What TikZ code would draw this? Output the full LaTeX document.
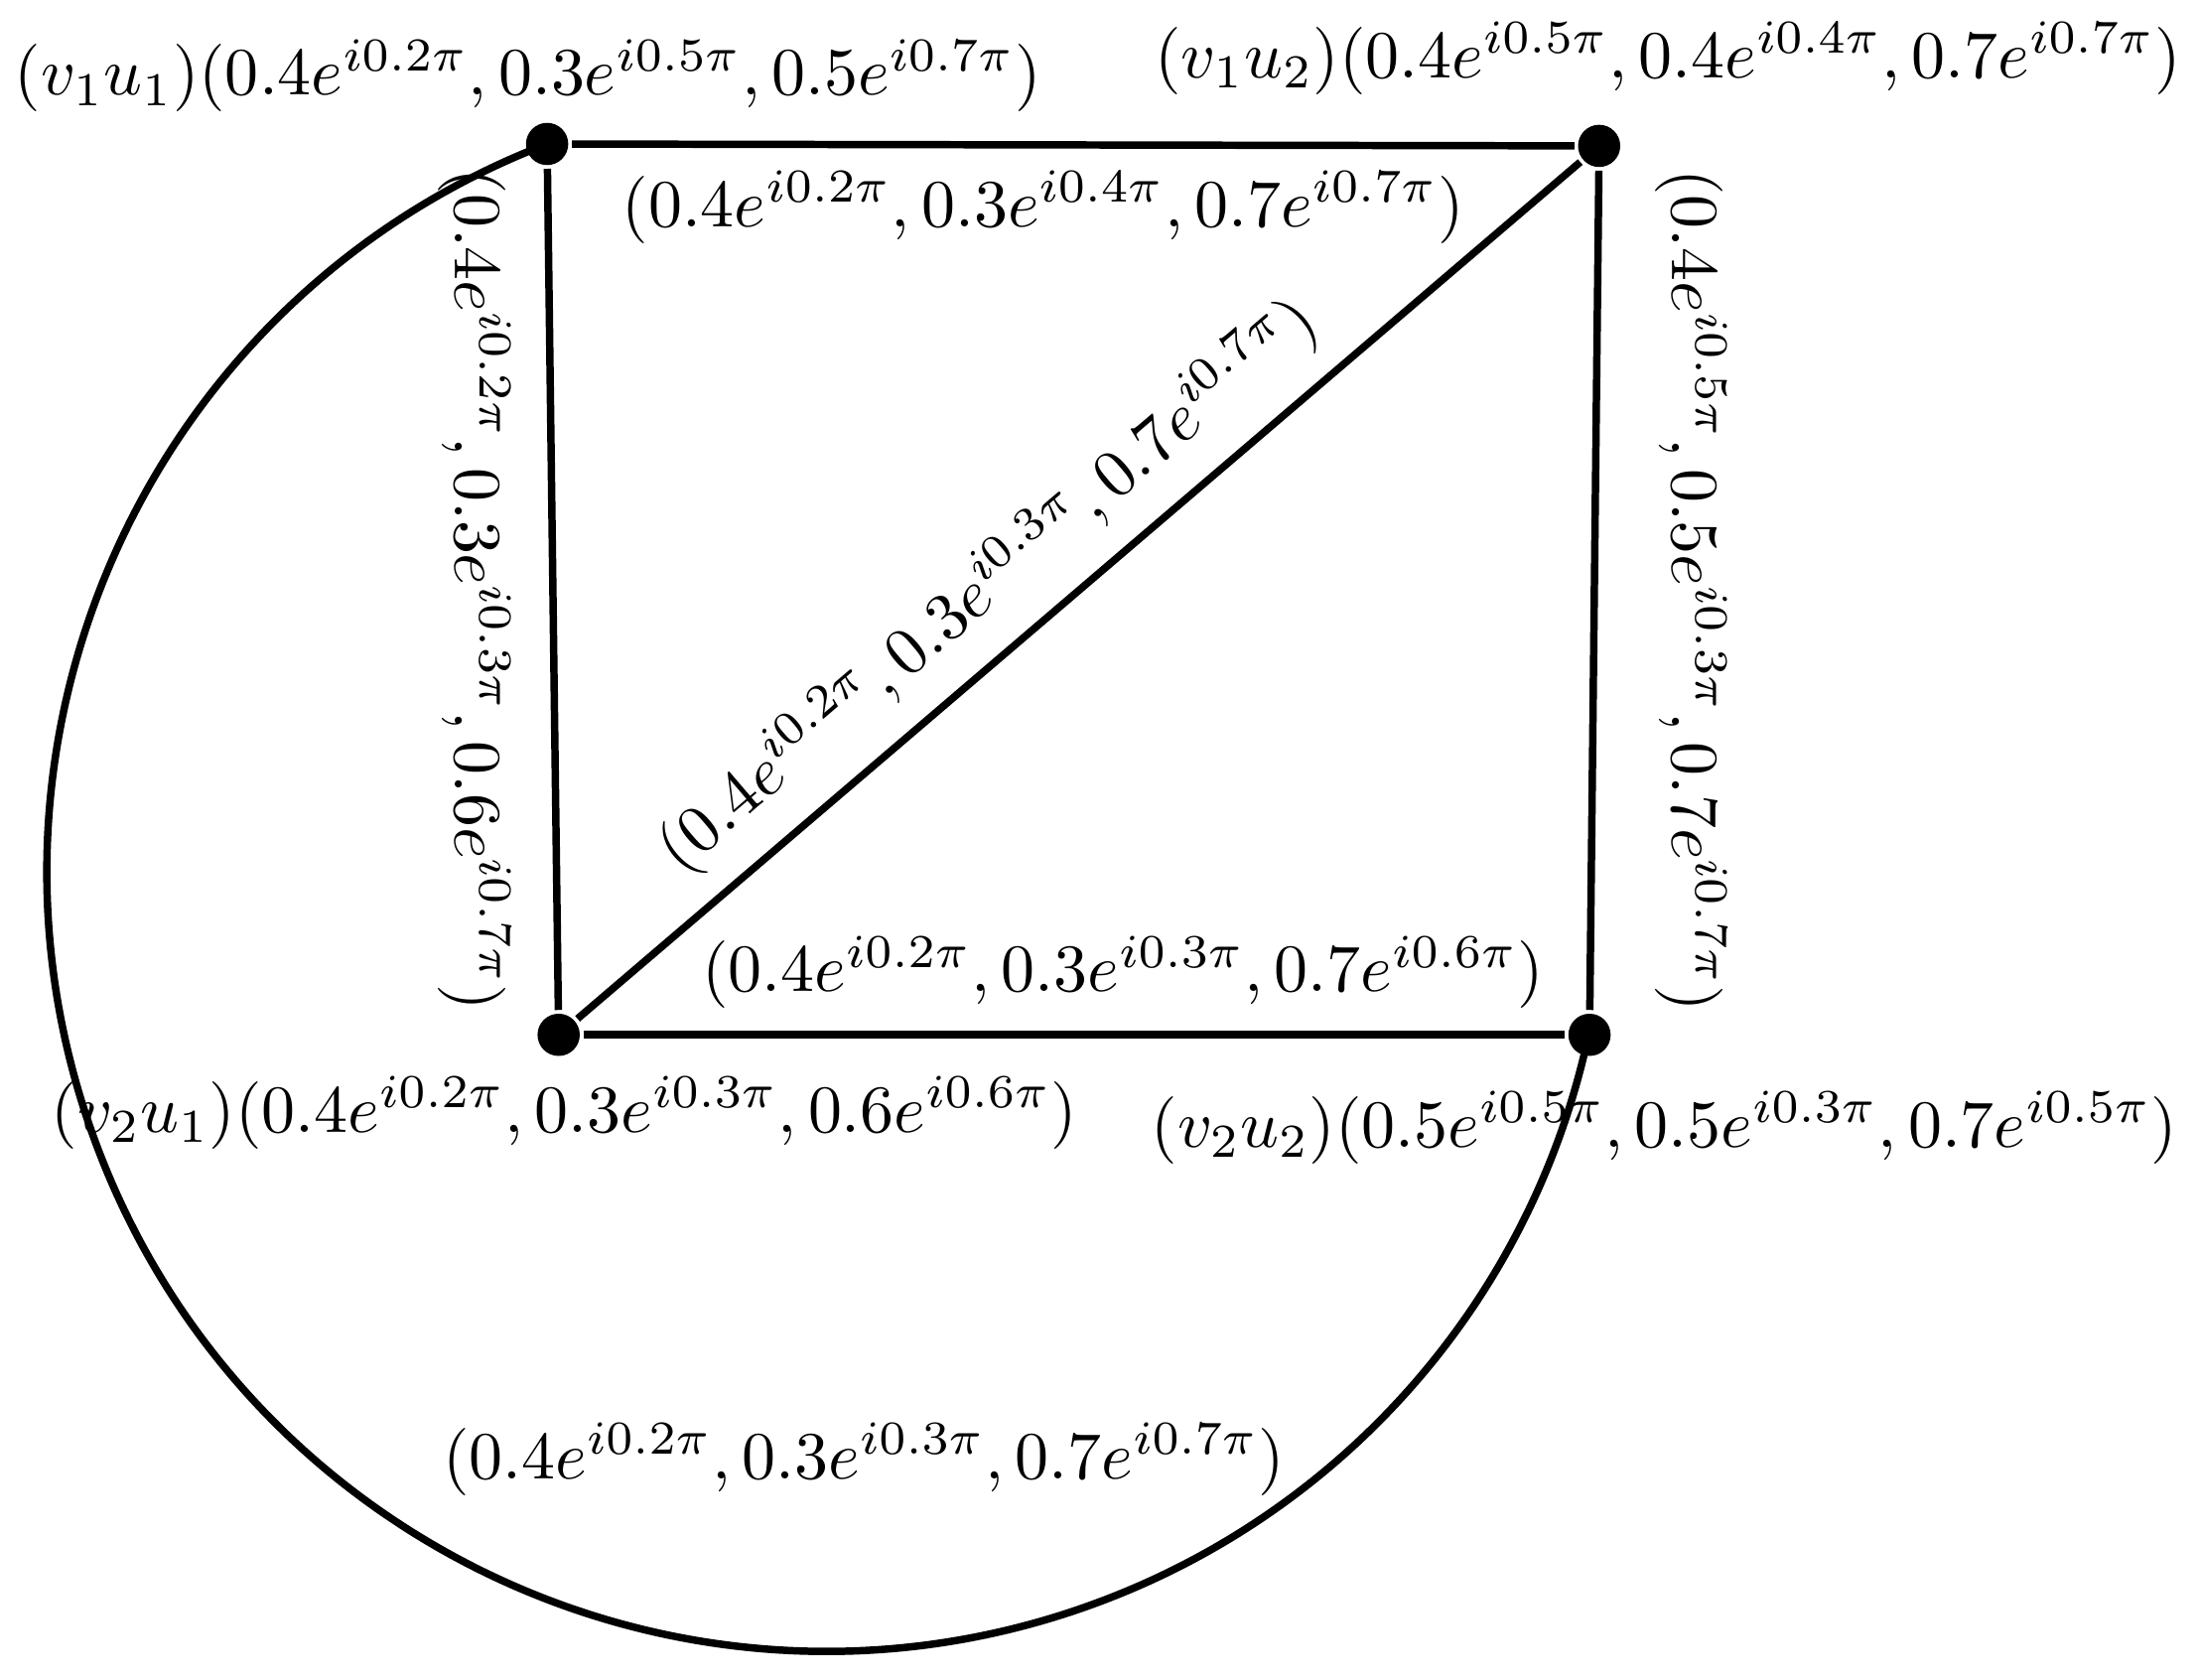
\documentclass[tikz,border=0pt]{standalone}
\usepackage{amsmath}
\usepackage{amssymb}
\usepackage{tikz}
\usetikzlibrary{positioning}
\tikzset{every picture/.style={line width=1.1pt}}
\tikzset{vtx/.style={circle, fill=black, inner sep=0pt, minimum size=2.2mm}}

\begin{document}
\begin{tikzpicture}
\useasboundingbox (0,0) rectangle (11.46,8.75);
\node[vtx, label={[xshift=-1mm, label distance=-1mm]above:$(v_1u_1)(0.4e^{i0.2\pi},0.3e^{i0.5\pi},0.5e^{i0.7\pi})$}] at (2.85,8.00) (v1u1) {};
\node[vtx, label={[xshift=3.6mm, label distance=0mm]above:$(v_1u_2)(0.4e^{i0.5\pi},0.4e^{i0.4\pi},0.7e^{i0.7\pi})$}] at (8.33,7.99) (v1u2) {};
\node[vtx, label={[xshift=0.3mm, label distance=-0.5mm]below:$(v_2u_1)(0.4e^{i0.2\pi},0.3e^{i0.3\pi},0.6e^{i0.6\pi})$}] at (2.91,3.36) (v2u1) {};
\node[vtx, label={[xshift=3.9mm, label distance=0.3mm]below:$(v_2u_2)(0.5e^{i0.5\pi},0.5e^{i0.3\pi},0.7e^{i0.5\pi})$}] at (8.28,3.36) (v2u2) {};
\path (v1u1) edge node[below, pos=0.47]{$(0.4e^{i0.2\pi},0.3e^{i0.4\pi},0.7e^{i0.7\pi})$} (v1u2)
      (v2u1) edge node[above, pos=0.55]{$(0.4e^{i0.2\pi},0.3e^{i0.3\pi},0.7e^{i0.6\pi})$} (v2u2)
      (v1u1) edge node[rotate=-90, anchor=north, pos=0.5, outer sep=1mm]{$(0.4e^{i0.2\pi},0.3e^{i0.3\pi},0.6e^{i0.7\pi})$} (v2u1)
      (v1u2) edge node[rotate=-90, anchor=south, pos=0.5, outer sep=2mm]{$(0.4e^{i0.5\pi},0.5e^{i0.3\pi},0.7e^{i0.7\pi})$} (v2u2)
      (v2u1) edge node[sloped, above, pos=0.45]{$(0.4e^{i0.2\pi},0.3e^{i0.3\pi},0.7e^{i0.7\pi})$} (v1u2);
\draw (v1u1.center) arc[start angle=111, end angle=348, radius=4.06];
\node at (4.50,1.15) (arclbl) {$(0.4e^{i0.2\pi},0.3e^{i0.3\pi},0.7e^{i0.7\pi})$};
\end{tikzpicture}
\end{document}
